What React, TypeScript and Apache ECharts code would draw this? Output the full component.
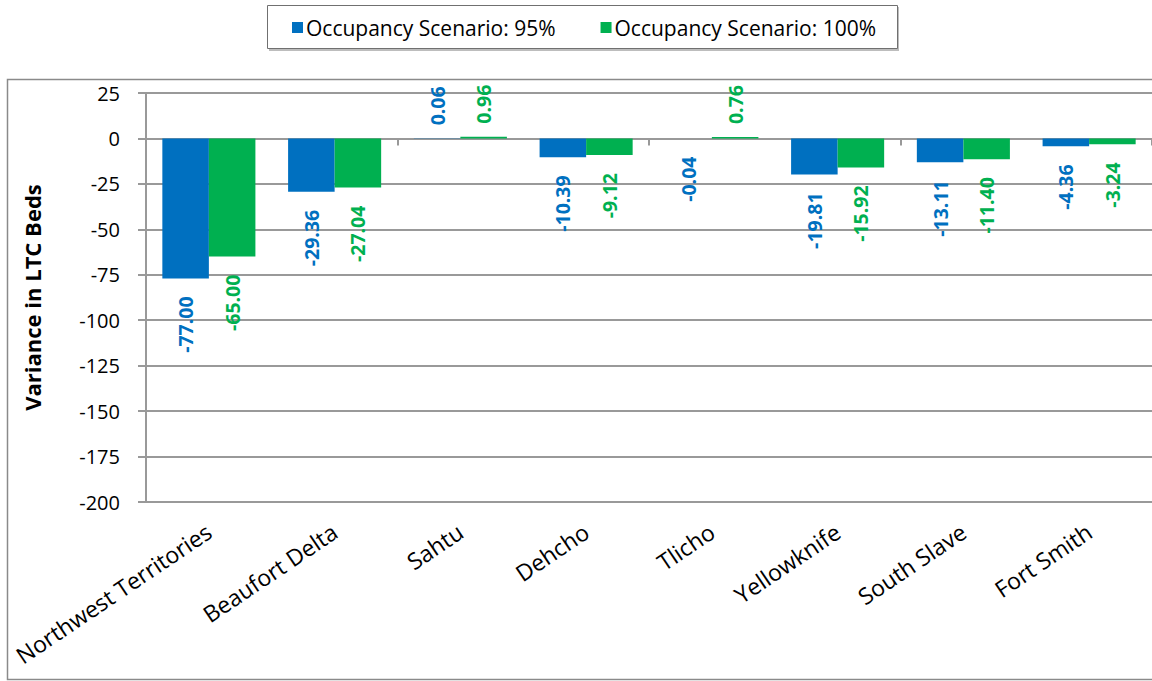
import React, { useEffect, useRef } from "react";
import * as echarts from "echarts";

const regions = [
  "Northwest Territories",
  "Beaufort Delta",
  "Sahtu",
  "Dehcho",
  "Tlicho",
  "Yellowknife",
  "South Slave",
  "Fort Smith",
];
const scenario95 = [-77.0, -29.36, 0.06, -10.39, -0.04, -19.81, -13.11, -4.36];
const scenario100 = [-65.0, -27.04, 0.96, -9.12, 0.76, -15.92, -11.4, -3.24];
const seriesNames = ["Occupancy Scenario: 95%", "Occupancy Scenario: 100%"];
const seriesColors = ["#0070C0", "#00B050"];

const FONT = "Open Sans";
const GRID_COLOR = "#999999";

// Value labels sit just past the end of each bar, rotated to read upwards.
function barData(values: number[], color: string) {
  return values.map((v) => ({
    value: v,
    label: {
      show: true,
      position: v >= 0 ? "top" : "bottom",
      rotate: 90,
      align: v >= 0 ? "left" : "right",
      verticalAlign: "middle",
      distance: v >= 0 ? 13 : 18,
      color,
      fontFamily: FONT,
      fontWeight: "bold",
      fontSize: 19.5,
      formatter: () => v.toFixed(2),
    },
  }));
}

export default function App() {
  const ref = useRef<HTMLDivElement>(null);

  useEffect(() => {
    if (!ref.current) return;
    const chart = echarts.init(ref.current, undefined, { renderer: "svg" });
    chart.setOption({
      animation: false,
      backgroundColor: "#ffffff",
      textStyle: { fontFamily: FONT },
      graphic: [
        {
          type: "rect",
          shape: { x: 7.5, y: 79.5, width: 1170, height: 600 },
          style: { fill: "none", stroke: "#8a8a8a", lineWidth: 1.5 },
          silent: true,
        },
        {
          type: "rect",
          shape: { x: 269, y: 7, width: 630, height: 44 },
          style: { fill: "#bdbdbd", stroke: "none" },
          silent: true,
        },
        {
          type: "rect",
          shape: { x: 267.5, y: 5.5, width: 630, height: 43 },
          style: { fill: "#ffffff", stroke: "#707070", lineWidth: 1 },
          silent: true,
        },
      ],
      legend: {
        top: 12,
        left: 287,
        itemWidth: 11,
        itemHeight: 11,
        itemGap: 45,
        icon: "rect",
        textStyle: { fontFamily: FONT, fontSize: 21, color: "#000", padding: [0, 0, 0, -2] },
        data: seriesNames,
      },
      grid: { left: 146, right: -7, top: 93, bottom: 179, containLabel: false },
      xAxis: [
        {
          type: "category",
          data: regions,
          position: "bottom",
          axisLine: { onZero: true, lineStyle: { color: GRID_COLOR, width: 2 } },
          axisTick: { show: true, length: 7, lineStyle: { color: GRID_COLOR, width: 2 } },
          axisLabel: { show: false },
          splitLine: { show: false },
        },
        {
          type: "category",
          data: regions,
          position: "bottom",
          axisLine: { show: false, onZero: false },
          axisTick: { show: false },
          axisLabel: {
            rotate: 34,
            margin: 27,
            fontFamily: FONT,
            fontSize: 23,
            color: "#000",
            interval: 0,
          },
        },
      ],
      yAxis: {
        type: "value",
        min: -200,
        max: 25,
        interval: 25,
        name: "Variance in LTC Beds",
        nameLocation: "middle",
        nameRotate: 90,
        nameGap: 103,
        nameTextStyle: { fontFamily: FONT, fontSize: 22, fontWeight: "bold", color: "#000" },
        axisLine: { show: true, lineStyle: { color: GRID_COLOR, width: 2 } },
        axisTick: { show: true, length: 8, lineStyle: { color: GRID_COLOR, width: 2 } },
        axisLabel: { margin: 26, fontFamily: FONT, fontSize: 20, color: "#000" },
        splitLine: { show: true, lineStyle: { color: GRID_COLOR, width: 2 } },
      },
      series: [
        {
          name: seriesNames[0],
          type: "bar",
          xAxisIndex: 0,
          barGap: "0%",
          barCategoryGap: "26%",
          itemStyle: { color: seriesColors[0] },
          data: barData(scenario95, seriesColors[0]),
        },
        {
          name: seriesNames[1],
          type: "bar",
          xAxisIndex: 0,
          barGap: "0%",
          barCategoryGap: "26%",
          itemStyle: { color: seriesColors[1] },
          data: barData(scenario100, seriesColors[1]),
        },
      ],
    });
    return () => chart.dispose();
  }, []);

  return (
    <div
      ref={ref}
      style={{ position: "fixed", left: 0, top: 0, width: 1152, height: 681 }}
    />
  );
}
